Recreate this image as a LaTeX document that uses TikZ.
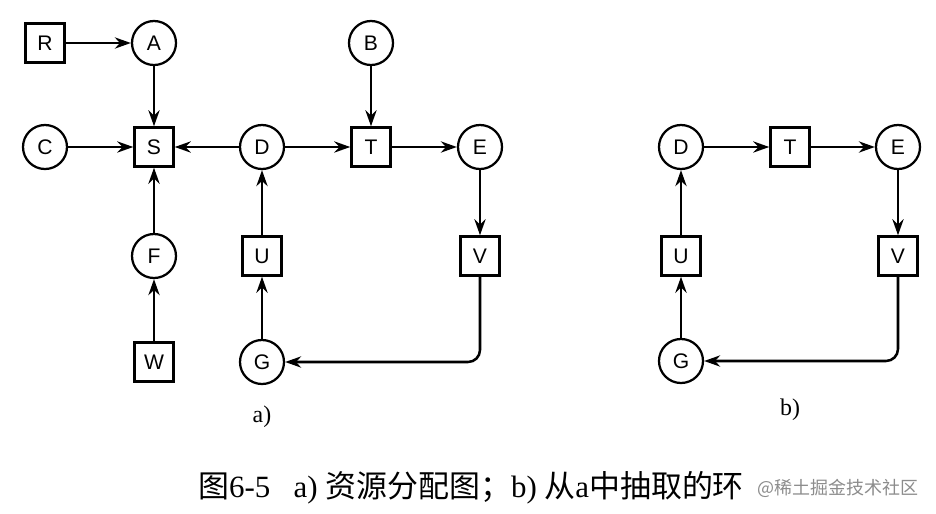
\documentclass[tikz,border=0pt]{standalone}
\usepackage{fontspec}
\setmainfont{Liberation Serif}
\setsansfont{Liberation Sans}
\newfontfamily\cjk{Noto Sans CJK SC}
\usetikzlibrary{arrows.meta, positioning}
\tikzstyle{proc} = [circle, draw=black, line width=1.6pt, minimum size=1.1cm, inner sep=0pt, font=\sffamily\fontsize{15}{15}\selectfont]
\tikzstyle{res} = [rectangle, draw=black, line width=1.6pt, minimum size=0.98cm, inner sep=0pt, font=\sffamily\fontsize{15}{15}\selectfont]
\tikzstyle{arrow} = [line width=1.8pt, -{Stealth[length=0.4cm, width=0.28cm]}]
\begin{document}
\begin{tikzpicture}[x=0.025cm, y=-0.025cm]
\useasboundingbox (0,0) rectangle (936,514);

% a) resource graph
\node (R) [res] at (45,43) {R};
\node (A) [proc] at (154,43) {A};
\node (B) [proc] at (371,43) {B};
\node (C) [proc] at (45,147) {C};
\node (S) [res] at (154,147) {S};
\node (D) [proc] at (262,147) {D};
\node (T) [res] at (371,147) {T};
\node (E) [proc] at (480,147) {E};
\node (F) [proc] at (154,256) {F};
\node (U) [res] at (262,256) {U};
\node (V) [res] at (480,256) {V};
\node (W) [res] at (154,362) {W};
\node (G) [proc] at (262,362) {G};
\node (la) at (262,417) {\fontsize{17}{17}\selectfont a)};

\draw [arrow] (R) -- (A);
\draw [arrow] (A) -- (S);
\draw [arrow] (C) -- (S);
\draw [arrow] (D) -- (S);
\draw [arrow] (F) -- (S);
\draw [arrow] (W) -- (F);
\draw [arrow] (D) -- (T);
\draw [arrow] (B) -- (T);
\draw [arrow] (T) -- (E);
\draw [arrow] (E) -- (V);
\draw [arrow, rounded corners=0.3cm] (V) |- (G);
\draw [arrow] (G) -- (U);
\draw [arrow] (U) -- (D);

% b) cycle taken from a)
\node (D2) [proc] at (681,147) {D};
\node (T2) [res] at (790,147) {T};
\node (E2) [proc] at (898,147) {E};
\node (U2) [res] at (681,256) {U};
\node (V2) [res] at (898,256) {V};
\node (G2) [proc] at (681,361) {G};
\node (lb) at (790,410) {\fontsize{17}{17}\selectfont b)};

\draw [arrow] (D2) -- (T2);
\draw [arrow] (T2) -- (E2);
\draw [arrow] (E2) -- (V2);
\draw [arrow, rounded corners=0.3cm] (V2) |- (G2);
\draw [arrow] (G2) -- (U2);
\draw [arrow] (U2) -- (D2);

% caption
\node (cap) [anchor=west, inner sep=0pt] at (198,488) {\fontsize{22}{22}\selectfont{\cjk 图}6-5\hspace{0.5em} a) {\cjk 资源分配图；}b) {\cjk 从}a{\cjk 中抽取的环}};
\node (wm) [anchor=west, inner sep=0pt, text=black!45] at (757,488) {\cjk\fontsize{12.8}{12.8}\selectfont @稀土掘金技术社区};
\end{tikzpicture}
\end{document}
